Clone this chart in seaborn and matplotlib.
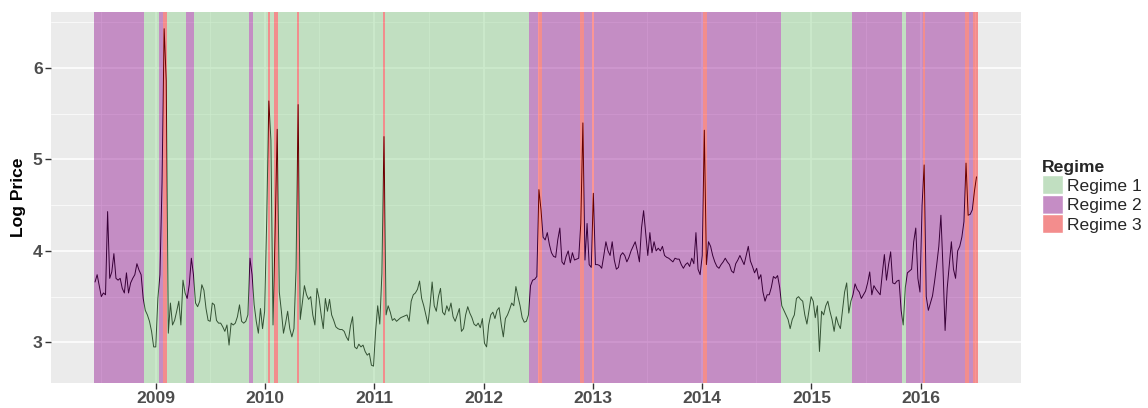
import numpy as np
import pandas as pd
import matplotlib
matplotlib.use("Agg")
import matplotlib.pyplot as plt
from matplotlib.patches import Patch
from matplotlib.ticker import MultipleLocator
import seaborn as sns

# weekly log prices (first week mid-June 2008)
start_date = "2008-06-11"
log_price = [
    3.66, 3.74, 3.62, 3.50, 3.54, 3.52, 4.43, 3.70, 3.77, 3.97, 3.70, 3.68, 3.70, 3.59, 3.54, 3.76,
    3.54, 3.65, 3.70, 3.74, 3.86, 3.79, 3.74, 3.48, 3.35, 3.30, 3.23, 3.12, 2.95, 2.95, 3.48, 3.74,
    4.75, 6.43, 5.86, 3.10, 3.43, 3.19, 3.24, 3.34, 3.45, 3.19, 3.68, 3.54, 3.48, 3.63, 3.92, 3.74,
    3.43, 3.39, 3.45, 3.63, 3.57, 3.37, 3.24, 3.23, 3.43, 3.41, 3.24, 3.21, 3.21, 3.17, 3.12, 3.19,
    2.97, 3.21, 3.19, 3.21, 3.28, 3.41, 3.23, 3.21, 3.23, 3.30, 3.92, 3.74, 3.41, 3.23, 3.10, 3.37,
    3.15, 3.34, 4.35, 5.64, 5.21, 3.19, 4.20, 5.33, 3.55, 3.34, 3.10, 3.21, 3.34, 3.15, 3.06, 3.15,
    3.80, 5.60, 3.25, 3.43, 3.62, 3.52, 3.47, 3.50, 3.30, 3.19, 3.59, 3.48, 3.30, 3.15, 3.48, 3.34,
    3.47, 3.30, 3.24, 3.17, 3.15, 3.14, 3.14, 3.12, 3.06, 3.02, 3.18, 3.28, 2.95, 2.93, 2.98, 2.95,
    2.97, 2.90, 2.86, 2.88, 2.75, 2.74, 3.12, 3.40, 3.20, 3.75, 5.25, 3.30, 3.40, 3.33, 3.24, 3.26,
    3.23, 3.25, 3.27, 3.28, 3.29, 3.30, 3.23, 3.45, 3.52, 3.54, 3.58, 3.67, 3.48, 3.40, 3.30, 3.20,
    3.40, 3.66, 3.40, 3.34, 3.50, 3.59, 3.33, 3.30, 3.40, 3.34, 3.43, 3.28, 3.23, 3.30, 3.37, 3.12,
    3.15, 3.30, 3.39, 3.32, 3.27, 3.20, 3.18, 3.21, 3.16, 3.26, 2.99, 2.95, 3.19, 3.30, 3.33, 3.26,
    3.35, 3.38, 3.20, 3.06, 3.26, 3.30, 3.36, 3.43, 3.40, 3.61, 3.50, 3.40, 3.27, 3.22, 3.23, 3.30,
    3.62, 3.68, 3.69, 3.72, 4.67, 4.45, 4.15, 4.12, 4.20, 4.07, 3.98, 3.94, 3.93, 4.12, 4.25, 3.88,
    3.85, 3.94, 4.00, 3.87, 3.98, 3.90, 3.91, 3.92, 4.30, 5.40, 3.90, 4.30, 3.85, 3.82, 4.63, 3.85,
    3.85, 3.84, 3.81, 3.95, 4.10, 4.00, 3.95, 4.10, 3.90, 3.80, 3.82, 3.95, 3.98, 3.95, 3.88, 3.93,
    4.00, 4.05, 4.10, 4.00, 3.88, 4.25, 4.44, 4.20, 3.95, 4.20, 3.98, 4.10, 4.00, 4.03, 4.00, 4.05,
    3.95, 3.93, 3.92, 3.90, 3.88, 3.92, 3.91, 3.91, 3.85, 3.81, 3.85, 3.87, 3.83, 3.92, 3.86, 4.20,
    3.80, 3.74, 3.95, 5.32, 3.85, 4.10, 4.05, 3.95, 3.88, 3.83, 3.81, 3.85, 3.88, 3.92, 3.88, 3.85,
    3.78, 3.76, 3.86, 3.90, 3.95, 3.90, 3.85, 3.95, 4.05, 3.89, 3.83, 3.76, 3.81, 3.69, 3.74, 3.55,
    3.45, 3.52, 3.52, 3.60, 3.72, 3.70, 3.73, 3.60, 3.40, 3.35, 3.30, 3.25, 3.15, 3.25, 3.30, 3.48,
    3.50, 3.47, 3.45, 3.30, 3.20, 3.35, 3.50, 3.45, 3.27, 3.40, 2.90, 3.34, 3.30, 3.40, 3.45, 3.34,
    3.25, 3.12, 3.28, 3.20, 3.15, 3.35, 3.55, 3.65, 3.32, 3.45, 3.52, 3.64, 3.58, 3.55, 3.48, 3.52,
    3.56, 3.65, 3.77, 3.52, 3.62, 3.58, 3.55, 3.52, 3.75, 3.96, 3.68, 3.85, 3.99, 3.65, 3.64, 3.67,
    3.68, 3.35, 3.19, 3.60, 3.76, 3.78, 3.80, 4.10, 4.25, 3.70, 3.55, 4.50, 4.94, 3.50, 3.35, 3.43,
    3.51, 3.67, 3.85, 4.05, 4.39, 3.81, 3.13, 3.59, 3.85, 4.10, 3.80, 3.70, 4.00, 4.05, 4.15, 4.32,
    4.96, 4.39, 4.40, 4.45, 4.65, 4.81,
]

# regime of each week, as runs: (regime, number of weeks)
run_regime = [2, 1, 2, 3, 1, 2, 1, 2, 1, 3, 1, 3, 1, 3, 1, 3, 1, 2,
              3, 2, 3, 2, 3, 2, 3, 2, 1, 2, 1, 2, 3, 2, 3, 2, 3]
run_length = [24, 7, 2, 2, 9, 4, 26, 2, 7, 1, 2, 2, 9, 1, 40, 1, 69, 4,
              2, 18, 2, 4, 1, 52, 2, 35, 34, 24, 2, 8, 1, 19, 2, 2, 2]

regime_labels = ["Regime 1", "Regime 2", "Regime 3"]
year_labels = ["2009", "2010", "2011", "2012", "2013", "2014", "2015", "2016"]
y_ticks = [3, 4, 5, 6]

# fill colours (alpha 0.4) and their look on the grey panel for the legend
fill = {1: "#82CD82", 2: "#8B008B", 3: "#FF0000"}
key_fill = {1: "#C1DFC1", 2: "#C58DC5", 3: "#F38D8D"}

sns.set_theme(style="darkgrid", rc={"axes.facecolor": "#EBEBEB", "grid.color": "white"})
plt.rcParams["font.family"] = ["Liberation Sans", "DejaVu Sans"]

dates = pd.date_range(start_date, periods=len(log_price), freq="7D")
df = pd.DataFrame({"Date": dates, "Log Price": log_price})

fig = plt.figure(figsize=(11.48, 4.08), dpi=100)
ax = fig.add_axes([0.0444, 0.0613, 0.889 - 0.0444, 0.971 - 0.0613])

sns.lineplot(data=df, x="Date", y="Log Price", color="black", linewidth=0.7, ax=ax, zorder=1.5)

# regime shading on top of the line, like ggplot's alpha rects
half_week = pd.Timedelta(days=3.5)
pos = 0
for r, n in zip(run_regime, run_length):
    ax.axvspan(dates[pos] - half_week, dates[pos + n - 1] + half_week,
               color=fill[r], alpha=0.4, lw=0, zorder=2)
    pos += n

# ggplot-style 5% expansion
xpad = (dates[-1] - dates[0]) * 0.05
ax.set_xlim(dates[0] - xpad, dates[-1] + xpad)
ymin, ymax = min(log_price), max(log_price)
ypad = (ymax - ymin) * 0.05
ax.set_ylim(ymin - ypad, ymax + ypad)

ax.set_xticks([pd.Timestamp(f"{y}-01-01") for y in year_labels])
ax.set_xticklabels(year_labels, fontweight="bold")
ax.set_xticks([pd.Timestamp(f"{int(y) - 1}-07-01") for y in year_labels] + [pd.Timestamp("2016-07-01")], minor=True)
ax.set_yticks(y_ticks)
ax.set_yticklabels([str(v) for v in y_ticks], fontweight="bold")
ax.yaxis.set_minor_locator(MultipleLocator(0.5))

ax.set_axisbelow(True)
ax.grid(which="major", color="white", linewidth=1.1)
ax.grid(which="minor", color="white", linewidth=0.5)
for s in ax.spines.values():
    s.set_visible(False)

ax.tick_params(axis="both", which="major", length=4, width=1, color="#333333",
               labelcolor="#4D4D4D", labelsize=12.6, pad=2, bottom=True, left=True)
ax.tick_params(axis="both", which="minor", length=0)
ax.set_xlabel("")
ax.set_ylabel("Log Price", fontsize=12.6, fontweight="bold", color="black", labelpad=5)

handles = [Patch(facecolor=key_fill[i + 1], edgecolor="white", linewidth=1.0) for i in range(3)]
fig.legend(handles, regime_labels, title="Regime", loc="center left",
           bbox_to_anchor=(1042 / 1148, 0.518), frameon=False, fontsize=12.6,
           title_fontproperties={"weight": "bold", "size": 12.6},
           handlelength=1.2, handleheight=1.3, labelspacing=0.02,
           handletextpad=0.25, borderpad=0, borderaxespad=0, alignment="left")

fig.savefig("out.png", dpi=100)
